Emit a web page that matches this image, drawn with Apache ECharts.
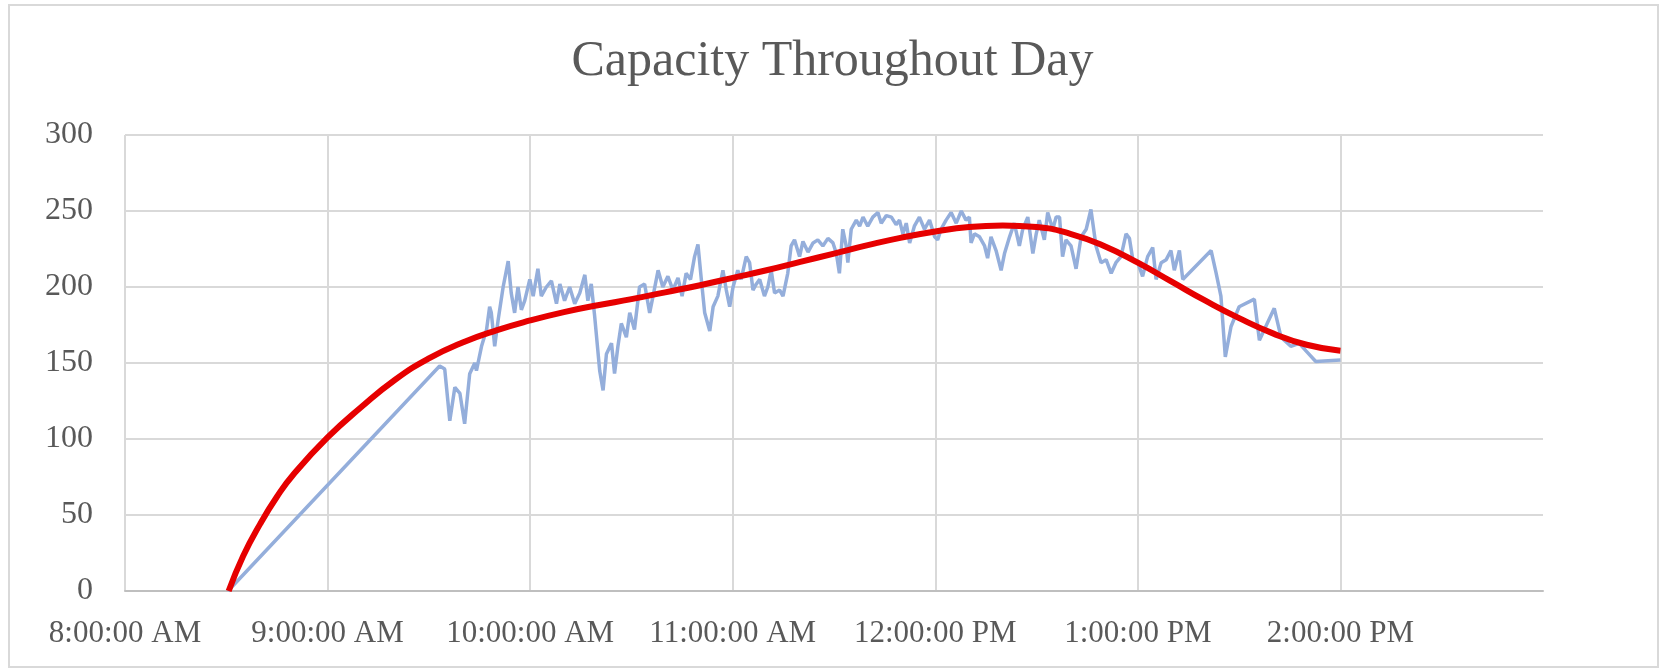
<!DOCTYPE html>
<html>
<head>
<meta charset="utf-8">
<script src="https://cdn.jsdelivr.net/npm/echarts@6/dist/echarts.min.js"></script>
<style>
  html, body { margin: 0; padding: 0; background: #fff; }
  #chart { width: 1665px; height: 669px; }
</style>
</head>
<body>
<div id="chart"></div>
<script>
  // minutes after 8:00 AM / capacity
  const capMinutes = [
    30.5, 93.2, 94.7, 96.2, 97.7, 99.2, 100.6, 102.1, 103.6, 104.1, 105.6, 107.1, 108.0, 108.5, 109.5, 110.5,
    112.0, 113.5, 114.4, 115.4, 116.4, 117.4, 118.4, 119.9, 120.9, 122.3, 123.3, 124.8, 126.3, 127.8, 128.8, 130.2,
    131.7, 133.2, 134.7, 136.2, 137.1, 138.1, 139.1, 140.6, 141.6, 142.6, 144.1, 145.0, 146.0, 147.0, 148.5, 149.5,
    150.9, 152.4, 153.9, 155.4, 156.4, 157.9, 159.3, 160.8, 162.3, 163.8, 165.0, 166.2, 167.5, 168.7, 169.7, 170.7,
    171.7, 173.2, 174.2, 175.6, 177.1, 178.1, 179.1, 180.1, 181.5, 182.5, 184.0, 185.0, 186.0, 187.0, 188.0, 189.4,
    190.4, 191.4, 192.4, 193.9, 194.9, 196.3, 197.3, 198.3, 199.8, 200.8, 202.3, 203.8, 205.2, 206.7, 208.2, 209.7,
    210.7, 211.6, 212.6, 213.6, 214.1, 215.1, 216.6, 217.6, 218.6, 220.0, 221.5, 223.0, 224.0, 225.5, 227.0, 228.4,
    229.4, 230.4, 231.4, 232.4, 233.8, 235.3, 236.8, 238.3, 239.8, 240.7, 241.7, 243.2, 244.7, 246.2, 247.7, 249.1,
    250.1, 250.6, 251.6, 253.1, 254.6, 255.5, 256.5, 258.0, 259.5, 260.5, 262.0, 263.4, 264.9, 265.9, 267.4, 268.9,
    269.9, 270.8, 272.3, 273.3, 274.8, 275.8, 276.8, 277.7, 278.7, 280.2, 281.7, 283.2, 284.7, 286.1, 287.6, 289.1,
    290.6, 292.1, 293.5, 295.0, 296.5, 297.5, 298.5, 300.0, 301.4, 302.9, 304.4, 305.4, 306.9, 308.4, 309.8, 310.8,
    312.3, 313.3, 321.7, 323.2, 324.6, 325.9, 327.6, 330.0, 334.5, 336.0, 340.4, 342.4, 345.3, 347.8, 349.8, 352.7,
    360.0
  ];
  const capValues = [
    0, 148, 146, 112, 134, 130, 110, 143, 150, 145, 161, 172, 187, 183, 161, 178,
    200, 217, 196, 183, 200, 185, 191, 205, 194, 212, 194, 200, 204, 189, 202, 191,
    200, 189, 196, 208, 191, 202, 181, 145, 132, 156, 163, 143, 161, 176, 167, 183,
    172, 200, 202, 183, 194, 211, 200, 207, 198, 206, 194, 209, 205, 220, 228, 205,
    183, 171, 187, 194, 211, 198, 187, 200, 211, 205, 220, 216, 198, 202, 205, 194,
    200, 211, 196, 198, 194, 209, 227, 231, 220, 230, 223, 229, 231, 227, 232, 229,
    222, 209, 238, 227, 216, 238, 244, 240, 246, 240, 246, 249, 242, 247, 246, 241,
    244, 235, 242, 229, 240, 246, 238, 244, 233, 231, 238, 244, 249, 242, 250, 244,
    246, 229, 235, 233, 227, 219, 233, 224, 211, 222, 233, 242, 227, 238, 246, 222,
    235, 244, 231, 249, 238, 246, 246, 220, 231, 227, 212, 233, 238, 251, 227, 216,
    218, 209, 216, 220, 235, 232, 218, 216, 207, 220, 226, 205, 216, 218, 224, 211,
    224, 205, 224, 209, 194, 154, 174, 187, 192, 165, 186, 167, 161, 163, 158, 151,
    152
  ];

  // red trend line
  const trendMinutes = [
    30.7, 35, 40, 45, 50, 60, 70, 80, 90, 100, 110, 120, 130, 140, 150, 160,
    170, 180, 190, 200, 210, 220, 230, 240, 250, 260, 270, 280, 290, 300, 310, 320,
    330, 340, 350, 360
  ];
  const trendValues = [
    0, 23, 44, 62, 77, 101, 121, 139, 153, 163.5, 171.5, 178, 183.5, 188, 192, 196.5,
    201, 206, 211, 216.5, 222, 227.5, 232.5, 236.5, 239.5, 240.5, 239.5, 235, 227, 216, 203.5, 191,
    179.5, 169.5, 162, 158
  ];

  const START = 8 * 60;
  const yTicks = [0, 50, 100, 150, 200, 250, 300];

  function clockLabel(m) {
    const h24 = Math.floor(m / 60);
    const h12 = h24 % 12 === 0 ? 12 : h24 % 12;
    return h12 + ':00:00 ' + (h24 < 12 ? 'AM' : 'PM');
  }

  const font = "'Liberation Serif', 'Times New Roman', serif";
  const chart = echarts.init(document.getElementById('chart'));

  chart.setOption({
    animation: false,
    backgroundColor: '#fff',
    title: {
      text: 'Capacity Throughout Day',
      left: 'center',
      top: 32,
      textStyle: { fontFamily: font, fontSize: 50, fontWeight: 'normal', color: '#595959' }
    },
    graphic: [{
      type: 'rect',
      shape: { x: 9, y: 5, width: 1649, height: 662 },
      style: { fill: 'none', stroke: '#d9d9d9', lineWidth: 2 },
      silent: true
    }],
    grid: { left: 125, right: 122, top: 135, bottom: 78 },
    xAxis: {
      type: 'value',
      min: START,
      max: START + 420,
      interval: 60,
      axisLine: { show: true, lineStyle: { color: '#bfbfbf', width: 2 } },
      axisTick: { show: false },
      axisLabel: {
        fontFamily: font, fontSize: 31, color: '#595959', margin: 27,
        showMaxLabel: false,
        formatter: clockLabel
      },
      splitLine: { show: true, showMaxLine: false, lineStyle: { color: '#d9d9d9', width: 2 } }
    },
    yAxis: {
      type: 'value',
      min: yTicks[0],
      max: yTicks[yTicks.length - 1],
      interval: 50,
      axisLine: { show: false },
      axisTick: { show: false },
      axisLabel: { fontFamily: font, fontSize: 32, color: '#595959', margin: 32 },
      splitLine: { show: true, lineStyle: { color: '#d9d9d9', width: 2 } }
    },
    series: [
      {
        name: 'Capacity',
        type: 'line',
        showSymbol: false,
        data: capMinutes.map((m, i) => [START + m, capValues[i]]),
        lineStyle: { color: '#94aedb', width: 3.5 },
        itemStyle: { color: '#94aedb' }
      },
      {
        name: 'Trend',
        type: 'line',
        smooth: 0.5,
        showSymbol: false,
        data: trendMinutes.map((m, i) => [START + m, trendValues[i]]),
        lineStyle: { color: '#e60000', width: 6 },
        itemStyle: { color: '#e60000' }
      }
    ]
  });
</script>
</body>
</html>
